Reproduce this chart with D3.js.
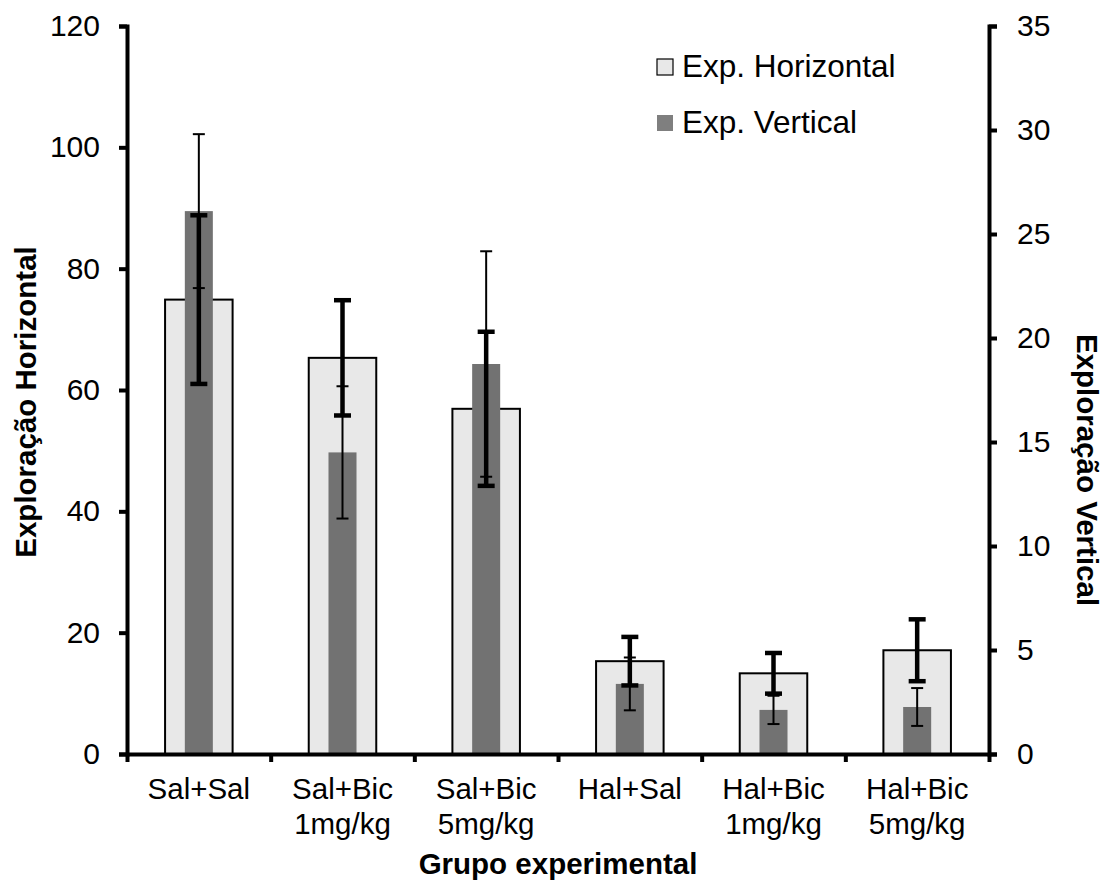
<!DOCTYPE html>
<html>
<head>
  <style>
  body { margin: 0; background: #fff; }
  #chart svg { font-family: Arial, "Liberation Sans", sans-serif; }
  </style>
</head>
<body>
  <script src="https://d3js.org/d3.v7.min.js"></script>
  <div id="chart"></div>
  <script>
    // data
    const categories = [["Sal+Sal"], ["Sal+Bic", "1mg/kg"], ["Sal+Bic", "5mg/kg"],
                        ["Hal+Sal"], ["Hal+Bic", "1mg/kg"], ["Hal+Bic", "5mg/kg"]];
    const horizontal = [74.9, 65.3, 56.9, 15.3, 13.3, 17.1];
    const horizontalErr = [13.9, 9.5, 12.7, 4.0, 3.35, 5.1];
    const vertical = [26.1, 14.5, 18.75, 3.37, 2.12, 2.26];
    const verticalErr = [3.7, 3.18, 5.42, 1.27, 0.68, 0.91];
    const leftTicks = [0, 20, 40, 60, 80, 100, 120];
    const rightTicks = [0, 5, 10, 15, 20, 25, 30, 35];
    const seriesNames = ["Exp. Horizontal", "Exp. Vertical"];

    const width = 1104, height = 881;
    const margin = {top: 26, left: 127, right: 115, bottom: 127};
    const plotW = width - margin.left - margin.right;
    const plotH = height - margin.top - margin.bottom;

    const svg = d3.select('#chart').append('svg')
      .attr('width', width)
      .attr('height', height);
    const main = svg.append('g')
      .attr('transform', `translate(${margin.left},${margin.top})`);

    const x = d3.scaleBand()
      .domain(d3.range(categories.length))
      .range([0, plotW]);
    const yLeft = d3.scaleLinear().domain([0, 120]).range([plotH, 0]);
    const yRight = d3.scaleLinear().domain([0, 35]).range([plotH, 0]);

    const lightW = x.bandwidth() * 0.47;
    const darkW = x.bandwidth() * 0.195;

    // light bars (primary axis)
    main.append('g').selectAll('rect')
      .data(horizontal)
      .join('rect')
      .attr('x', (d, i) => x(i) + (x.bandwidth() - lightW) / 2)
      .attr('y', d => yLeft(d))
      .attr('width', lightW)
      .attr('height', d => plotH - yLeft(d))
      .style('fill', '#e8e8e8')
      .style('stroke', '#000')
      .style('stroke-width', 2);

    // dark bars (secondary axis)
    main.append('g').selectAll('rect')
      .data(vertical)
      .join('rect')
      .attr('x', (d, i) => x(i) + (x.bandwidth() - darkW) / 2)
      .attr('y', d => yRight(d))
      .attr('width', darkW)
      .attr('height', d => plotH - yRight(d))
      .style('fill', '#727272');

    function errorBars(values, errs, scale, lw, capW) {
      const g = main.append('g')
        .style('stroke', '#000')
        .style('stroke-width', lw);
      values.forEach((v, i) => {
        const cx = x(i) + x.bandwidth() / 2;
        const top = scale(v + errs[i]), bot = scale(v - errs[i]);
        g.append('line').attr('x1', cx).attr('x2', cx).attr('y1', top).attr('y2', bot);
        g.append('line').attr('x1', cx - capW / 2).attr('x2', cx + capW / 2).attr('y1', top).attr('y2', top);
        g.append('line').attr('x1', cx - capW / 2).attr('x2', cx + capW / 2).attr('y1', bot).attr('y2', bot);
      });
    }
    errorBars(vertical, verticalErr, yRight, 2, 12);
    errorBars(horizontal, horizontalErr, yLeft, 4.5, 17);

    // axes
    const axisStyle = g => {
      g.selectAll('path.domain').style('stroke', '#000').style('stroke-width', 4);
      g.selectAll('.tick line').style('stroke', '#000').style('stroke-width', 4);
      g.selectAll('.tick text').style('font-size', '30px').style('fill', '#000')
        .style('font-family', 'Arial, "Liberation Sans", sans-serif');
    };

    main.append('g')
      .call(d3.axisLeft(yLeft).tickValues(leftTicks).tickSize(8).tickSizeOuter(8).tickPadding(19))
      .call(axisStyle);

    main.append('g')
      .attr('transform', `translate(${plotW},0)`)
      .call(d3.axisRight(yRight).tickValues(rightTicks).tickSize(8).tickSizeOuter(8).tickPadding(20))
      .call(axisStyle);

    // category axis with ticks between groups
    const xb = d3.scaleLinear().domain([0, categories.length]).range([0, plotW]);
    main.append('g')
      .attr('transform', `translate(0,${plotH})`)
      .call(d3.axisBottom(xb).tickValues(d3.range(categories.length + 1)).tickSize(8).tickSizeOuter(0).tickFormat(''))
      .call(axisStyle);

    const catLabels = main.append('g')
      .attr('transform', `translate(0,${plotH})`);
    catLabels.selectAll('text')
      .data(categories)
      .join('text')
      .attr('x', (d, i) => x(i) + x.bandwidth() / 2)
      .attr('y', 45)
      .style('text-anchor', 'middle')
      .style('font-size', '29.5px')
      .each(function(d) {
        d3.select(this).selectAll('tspan')
          .data(d)
          .join('tspan')
          .attr('x', d3.select(this).attr('x'))
          .attr('dy', (t, j) => j === 0 ? 0 : 35)
          .text(t => t);
      });

    // axis titles
    svg.append('text')
      .attr('transform', `translate(36,402) rotate(-90)`)
      .style('text-anchor', 'middle')
      .style('font-size', '29.5px')
      .style('font-weight', 'bold')
      .text('Exploração Horizontal');

    svg.append('text')
      .attr('transform', `translate(1077,470) rotate(90)`)
      .style('text-anchor', 'middle')
      .style('font-size', '29.5px')
      .style('font-weight', 'bold')
      .text('Exploração Vertical');

    svg.append('text')
      .attr('x', margin.left + plotW / 2)
      .attr('y', 874)
      .style('text-anchor', 'middle')
      .style('font-size', '29.5px')
      .style('font-weight', 'bold')
      .text('Grupo experimental');

    // legend
    const legend = svg.append('g').attr('transform', 'translate(657,59)');
    const legendFill = ['#e8e8e8', '#7f7f7f'];
    seriesNames.forEach((name, i) => {
      const row = legend.append('g').attr('transform', `translate(0,${i * 56})`);
      row.append('rect')
        .attr('width', 16).attr('height', 16)
        .style('fill', legendFill[i])
        .style('stroke', i === 0 ? '#000' : 'none')
        .style('stroke-width', 1.2);
      row.append('text')
        .attr('x', 25)
        .attr('y', 18)
        .style('font-size', '31.5px')
        .text(name);
    });
  </script>
</body>
</html>
